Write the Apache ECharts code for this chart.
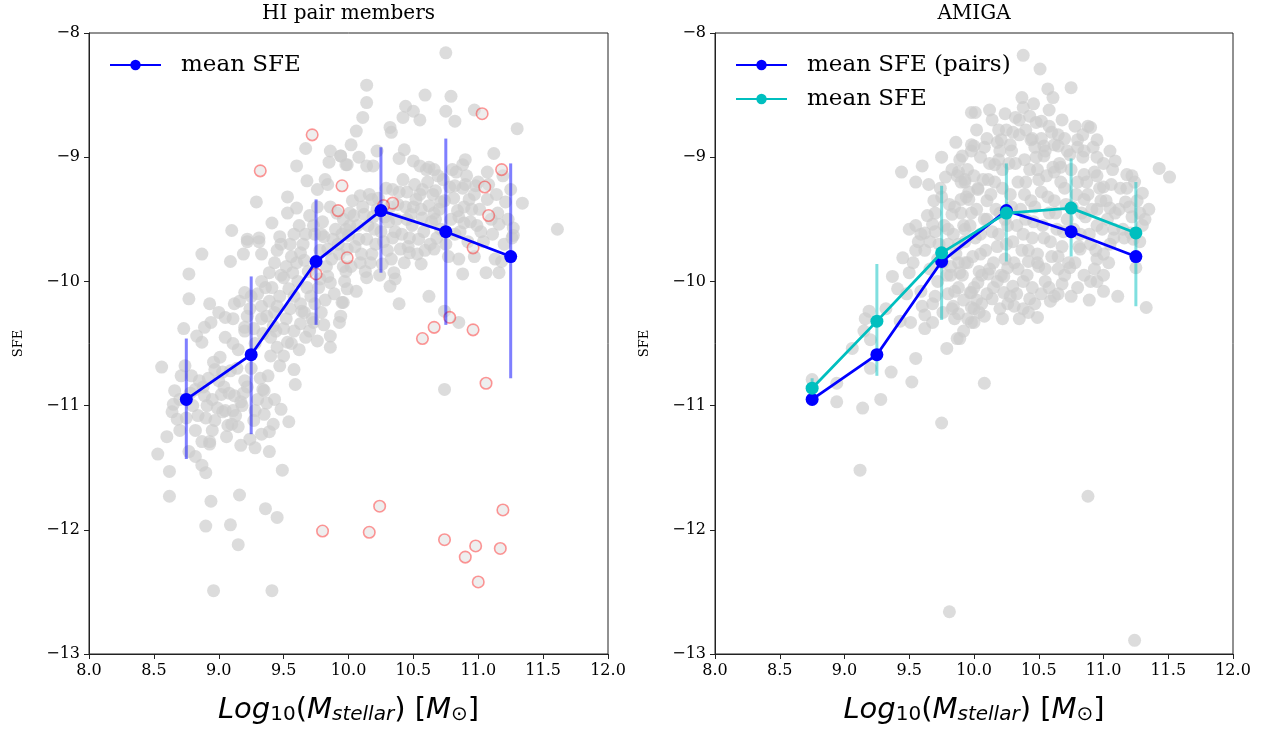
<!DOCTYPE html>
<html>
<head>
<meta charset="utf-8">
<script src="https://cdn.jsdelivr.net/npm/echarts@6/dist/echarts.min.js"></script>
<style>html,body{margin:0;padding:0;background:#fff}#c{width:1288px;height:732px}</style>
</head>
<body>
<div id="c"></div>
<script>
// ---- data ----
const binCenters = [8.75, 9.25, 9.75, 10.25, 10.75, 11.25];
const pairMean = [-10.95, -10.59, -9.84, -9.43, -9.60, -9.80];
const pairErrLo = [-11.43, -11.23, -10.35, -9.93, -10.35, -10.78];
const pairErrHi = [-10.46, -9.96, -9.34, -8.92, -8.85, -9.05];
const amigaMean = [-10.86, -10.32, -9.77, -9.45, -9.41, -9.61];
const amigaErrLo = [-10.93, -10.76, -10.31, -9.84, -9.80, -10.20];
const amigaErrHi = [-10.78, -9.86, -9.23, -9.05, -9.01, -9.20];
const xTicks = [8.0, 8.5, 9.0, 9.5, 10.0, 10.5, 11.0, 11.5, 12.0];
const yTicks = [-13, -12, -11, -10, -9, -8];

const pairGray = [
[9.10,-9.59],[8.87,-9.78],[8.77,-9.94],[8.77,-10.14],[8.93,-10.18],[9.09,-9.84],[9.19,-9.78],[9.22,-9.68],[9.31,-9.68],[9.33,-9.78],[9.43,-9.85],[9.48,-9.70],[9.56,-9.80],[9.57,-9.93],[9.63,-9.77],[9.67,-9.62],[9.79,-9.62],[9.84,-9.74],[9.86,-10.01],[9.95,-10.17],[9.93,-10.33],[9.86,-10.44],[9.86,-10.53],[9.76,-10.48],[9.67,-10.45],[9.63,-10.34],[9.73,-10.33],[9.79,-10.25],[9.64,-10.24],[9.58,-10.12],[9.54,-10.06],[9.50,-9.97],[9.39,-9.93],[9.33,-10.00],[9.20,-10.09],[9.16,-10.16],[9.22,-10.28],[9.11,-10.30],[9.20,-10.37],[9.33,-10.20],[9.39,-10.16],[9.43,-10.25],[9.42,-10.36],[9.50,-10.38],[9.53,-10.49],[9.45,-10.53],[9.40,-10.60],[9.50,-10.60],[9.58,-10.71],[9.59,-10.83],[9.47,-10.68],[9.38,-10.76],[9.34,-10.87],[9.43,-10.95],[9.48,-11.03],[9.54,-11.13],[9.42,-11.15],[9.35,-11.07],[9.28,-11.04],[9.20,-10.80],[9.12,-10.92],[9.11,-11.04],[9.17,-10.97],[9.02,-10.91],[9.05,-11.04],[9.07,-11.16],[9.15,-11.17],[9.24,-11.27],[9.33,-11.23],[9.39,-11.21],[8.97,-11.12],[8.91,-11.00],[8.89,-10.92],[8.97,-10.71],[9.01,-10.61],[8.96,-10.65],[9.03,-10.73],[9.11,-10.50],[9.05,-10.29],[8.94,-10.33],[8.89,-10.37],[8.87,-10.49],[8.83,-10.44],[8.73,-10.38],[8.74,-10.68],[8.71,-10.76],[8.66,-10.88],[8.65,-10.99],[8.64,-11.05],[8.68,-11.11],[8.70,-11.20],[8.60,-11.25],[8.56,-10.69],[8.82,-11.20],[8.87,-11.29],[8.93,-11.29],[8.79,-10.76],[8.82,-10.87],[8.88,-10.85],[9.98,-9.58],[9.96,-9.88],[9.94,-10.28],
[8.53,-11.39],[8.62,-11.53],[8.62,-11.73],[8.82,-11.41],[8.87,-11.48],[8.90,-11.54],[8.93,-11.31],[8.77,-11.37],[9.17,-11.32],[9.28,-11.34],[9.39,-11.37],[9.49,-11.52],[8.94,-11.77],[9.16,-11.72],[9.36,-11.83],[9.45,-11.90],[8.90,-11.97],[9.09,-11.96],[9.15,-12.12],[8.96,-12.49],[9.41,-12.49],
[9.96,-10.17],[9.99,-10.06],[10.14,-9.97],[10.32,-10.04],[10.36,-9.98],[10.39,-10.18],[10.47,-9.77],[10.56,-9.86],[10.62,-10.12],[10.66,-9.74],[10.74,-10.24],[10.85,-10.33],[10.88,-9.94],[10.85,-9.82],[10.97,-9.80],[11.06,-9.93],[11.16,-9.93],[11.13,-9.82],[11.18,-9.84],[11.26,-9.65],[11.61,-9.58],[10.74,-10.87],
[10.75,-8.16],[10.14,-8.42],[10.14,-8.56],[10.11,-8.68],[10.59,-8.50],[10.79,-8.51],[10.44,-8.59],[10.50,-8.63],[10.42,-8.68],[10.55,-8.70],[10.75,-8.63],[10.82,-8.71],[10.97,-8.62],[11.30,-8.77],[10.32,-8.76],[10.33,-8.80],[10.06,-8.79],[10.02,-8.90],[10.22,-8.95],[10.43,-8.94],[9.94,-8.99],[9.99,-9.06],[10.08,-9.00],[10.14,-9.07],[10.19,-9.07],[10.39,-9.01],[10.50,-9.03],[10.55,-9.07],[10.62,-9.08],[10.66,-9.10],[10.88,-9.06],[10.90,-9.02],[11.12,-8.97],[10.57,-9.26],[10.67,-9.27],[10.78,-9.24],[10.82,-9.23],[10.90,-9.22],[10.98,-9.23],[11.08,-9.22],[11.25,-9.26],[10.93,-9.34],[11.07,-9.34],[11.21,-9.36],[11.34,-9.37],[10.84,-9.43],[10.71,-9.36],[10.62,-9.39],[10.52,-9.34],[10.45,-9.28],[10.34,-9.26],[10.18,-9.34],[10.09,-9.31],[10.01,-9.45],[10.89,-9.53],[10.99,-9.55],[11.16,-9.54],[11.27,-9.57],[11.27,-9.63],[10.57,-9.49],[10.48,-9.46],[10.67,-9.50],
[9.67,-8.93],[9.86,-8.95],[9.94,-8.99],[9.85,-9.04],[9.60,-9.07],[9.98,-9.06],[9.68,-9.19],[9.82,-9.18],[9.76,-9.26],[9.84,-9.22],[9.53,-9.32],[9.29,-9.36],[9.60,-9.41],[9.53,-9.45],[9.41,-9.53],[9.22,-9.66],[9.31,-9.65],[9.47,-9.64],
[9.55,-9.70],[9.62,-9.55],[9.66,-9.83],[9.70,-9.47],[9.74,-9.62],[9.78,-9.75],[9.80,-9.52],[9.83,-9.88],[9.86,-9.40],[9.88,-9.66],[9.90,-9.58],[9.93,-9.78],[9.96,-9.50],[9.98,-9.92],[10.00,-9.63],[10.03,-9.35],[10.05,-9.72],[10.07,-9.55],[10.09,-9.85],[10.12,-9.46],[10.14,-9.66],[10.16,-9.30],[10.18,-9.78],[10.20,-9.58],[10.22,-9.42],[10.24,-9.95],[10.27,-9.68],[10.29,-9.25],[10.31,-9.52],[10.33,-9.82],[10.36,-9.60],[10.38,-9.38],[10.40,-9.74],[10.42,-9.18],[10.45,-9.50],[10.47,-9.65],[10.50,-9.40],[10.53,-9.78],[10.55,-9.30],[10.58,-9.60],[10.61,-9.20],[10.63,-9.70],[10.66,-9.45],[10.69,-9.15],[10.71,-9.58],[10.74,-9.35],[10.77,-9.80],[10.80,-9.10],[10.82,-9.62],[10.85,-9.48],[10.88,-9.25],[10.92,-9.68],[10.95,-9.42],[11.00,-9.20],[11.02,-9.60],[11.10,-9.50],[11.14,-9.30],[11.20,-9.70],
[9.00,-10.25],[9.05,-10.45],[9.12,-10.18],[9.15,-10.55],[9.20,-10.40],[9.25,-10.12],[9.28,-10.50],[9.33,-10.30],[9.36,-10.05],[9.40,-10.45],[9.45,-10.20],[9.48,-9.95],[9.52,-10.30],[9.56,-10.50],[9.60,-9.85],[9.63,-10.18],[9.68,-10.05],[9.72,-10.30],[9.78,-9.98],[9.82,-10.15],
[8.80,-11.00],[8.85,-10.80],[8.90,-11.10],[8.95,-10.95],[9.00,-10.80],[9.03,-11.05],[9.08,-10.90],[9.10,-11.15],[9.14,-10.70],[9.18,-11.00],[9.22,-10.85],[9.30,-10.95],[9.35,-10.88],[8.95,-11.20],[8.75,-11.10],[8.70,-10.95],
[9.45,-9.75],[9.52,-9.88],[9.58,-9.62],[9.61,-10.00],[9.65,-9.70],[9.69,-9.92],[9.71,-10.12],[9.73,-9.55],[9.76,-9.40],[9.77,-10.05],[9.81,-9.64],[9.84,-9.96],[9.87,-9.82],[9.89,-10.10],[9.91,-9.45],[9.92,-9.70],[9.95,-9.62],[9.97,-10.00],[9.99,-9.74],[10.01,-9.55],[10.02,-9.88],[10.04,-9.47],[10.06,-10.08],[10.08,-9.66],[10.10,-9.78],[10.11,-9.40],[10.13,-9.92],[10.15,-9.55],[10.17,-9.85],[10.19,-9.48],[10.21,-9.70],[10.23,-9.33],[10.25,-9.60],[10.26,-9.86],[10.28,-9.48],[10.30,-9.75],[10.32,-9.40],[10.34,-9.65],[10.35,-9.93],[10.37,-9.50],[10.39,-9.28],[10.41,-9.62],[10.43,-9.85],[10.44,-9.40],[10.46,-9.72],[10.49,-9.55],[10.51,-9.22],[10.54,-9.66],[10.56,-9.42],[10.59,-9.75],[10.60,-9.10],[10.64,-9.52],[10.65,-9.30],[10.68,-9.65],[10.70,-9.42],[10.73,-9.18],[10.75,-9.70],[10.79,-9.50],[10.81,-9.33],[10.83,-9.12],[10.86,-9.60],[10.89,-9.40],[10.91,-9.15],[10.94,-9.52],[10.97,-9.30],[11.01,-9.42],[11.04,-9.68],[11.07,-9.12],[11.11,-9.62],[11.15,-9.45],[11.19,-9.15],[11.23,-9.50],
[9.24,-10.22],[9.27,-10.38],[9.30,-10.10],[9.34,-10.42],[9.37,-10.28],[9.41,-10.05],[9.44,-10.40],[9.47,-10.12],[9.55,-10.22],[9.58,-10.40],[9.62,-10.55],[9.66,-10.25],[9.70,-10.40],[9.74,-10.18],[9.81,-10.35],
[8.92,-10.78],[8.99,-11.02],[9.04,-10.85],[9.09,-10.72],[9.13,-11.08],[9.19,-10.90],[9.25,-10.70],[9.27,-11.12],[9.32,-10.78],[9.37,-10.98],[9.06,-11.25],[8.84,-11.08],[8.78,-10.90]
];

const pairRed = [
[9.72,-8.82],[9.32,-9.11],[9.95,-9.23],[9.92,-9.43],[9.75,-9.94],[9.99,-9.81],[10.34,-9.37],[10.27,-9.39],[11.03,-8.65],[11.18,-9.10],[11.05,-9.24],[11.08,-9.47],[10.96,-9.73],[10.78,-10.29],[10.66,-10.37],[10.57,-10.46],[10.96,-10.39],[11.06,-10.82],[9.80,-12.01],[10.16,-12.02],[10.24,-11.81],[10.74,-12.08],[10.98,-12.13],[10.90,-12.22],[11.00,-12.42],[11.17,-12.15],[11.19,-11.84]
];

const amigaGray = [
[9.98,-8.64],[9.86,-8.88],[9.98,-8.90],[9.75,-9.00],[9.60,-9.07],[9.44,-9.12],[9.89,-9.02],[9.83,-9.10],[9.55,-9.20],[9.65,-9.22],[9.78,-9.16],[9.93,-9.20],[9.96,-9.28],[9.90,-9.34],[9.69,-9.35],[9.75,-9.32],[9.83,-9.46],[9.64,-9.47],[9.68,-9.54],[9.55,-9.55],[9.59,-9.62],[9.93,-9.58],[9.80,-9.58],
[10.38,-8.18],[10.51,-8.29],[10.57,-8.45],[10.75,-8.44],[10.61,-8.52],[10.37,-8.52],[10.46,-8.57],[10.38,-8.60],[10.43,-8.67],[10.01,-8.64],[10.14,-8.70],[10.19,-8.78],[10.25,-8.78],[10.52,-8.71],[10.58,-8.75],[10.65,-8.82],[10.88,-8.75],[10.90,-8.76],[10.80,-8.86],[10.95,-8.86],[10.35,-8.82],[10.44,-8.86],[10.21,-8.86],[10.00,-8.91],[9.91,-8.99],[9.98,-8.95],[10.29,-8.95],[10.47,-8.92],[10.54,-8.91],[10.65,-8.91],[10.80,-8.92],[10.67,-9.08],[10.19,-9.02],[10.16,-9.06],[10.11,-9.18],[10.39,-9.02],[10.54,-8.99],[10.49,-9.10],[10.62,-9.12],[10.85,-9.14],[10.95,-9.15],[11.00,-9.24],[11.09,-9.03],[11.07,-9.10],[11.18,-9.14],[11.22,-9.15],[11.43,-9.09],[11.51,-9.16],[11.30,-9.29],[11.17,-9.36],[11.32,-9.50],[11.05,-9.41],[10.95,-9.42],[10.85,-9.34],[9.93,-9.18],[10.03,-9.26],[9.96,-9.34],[9.88,-9.12],[11.21,-9.61],[11.08,-9.58],
[9.88,-9.85],[9.98,-10.09],[10.00,-10.22],[10.00,-10.33],[9.89,-10.46],[10.14,-10.14],[10.06,-10.18],[10.23,-10.09],[10.31,-10.20],[10.30,-10.04],[10.38,-10.00],[10.42,-10.25],[10.49,-10.29],[10.43,-10.14],[10.59,-10.16],[10.62,-10.12],[10.74,-9.89],[10.89,-10.15],[10.95,-10.00],[10.93,-9.90],[10.95,-9.82],[11.04,-9.85],[11.11,-10.12],[11.33,-10.21],[11.25,-9.89],[11.28,-9.68],[11.23,-9.66],[10.08,-10.82],[10.23,-9.96],[10.26,-9.89],[10.11,-9.94],[10.03,-10.01],[10.65,-9.90],[10.49,-9.85],[10.42,-9.84],[10.82,-9.74],
[8.75,-10.79],[8.94,-10.82],[8.94,-10.97],[9.14,-11.02],[9.28,-10.95],[9.36,-10.73],[9.52,-10.81],[9.55,-10.62],[9.06,-10.54],[9.15,-10.40],[9.16,-10.30],[9.19,-10.24],[9.32,-10.22],[9.20,-10.47],[9.20,-10.70],[9.43,-10.32],[9.51,-10.33],[9.62,-10.38],[9.68,-10.33],[9.62,-10.27],[9.68,-10.18],[9.45,-9.81],[9.37,-9.96],[9.41,-10.06],[9.53,-9.85],[9.50,-9.93],[9.59,-10.08],[9.57,-9.68],[9.62,-9.61],[9.73,-9.70],[9.79,-10.54],[9.87,-10.46],[9.75,-11.14],[9.83,-10.22],[9.88,-10.26],[9.80,-10.10],[9.85,-10.08],[9.89,-9.93],[9.93,-9.85],[9.97,-10.09],[9.98,-10.33],[9.98,-10.21],[9.82,-9.88],
[9.12,-11.52],[9.81,-12.66],[10.88,-11.73],[11.24,-12.89],
[9.85,-9.40],[9.88,-9.70],[9.92,-9.55],[9.95,-9.85],[9.98,-9.45],[10.01,-9.65],[10.03,-9.25],[10.05,-9.78],[10.08,-9.50],[10.10,-9.35],[10.12,-9.90],[10.14,-9.60],[10.16,-9.20],[10.18,-9.72],[10.20,-9.45],[10.22,-9.10],[10.24,-9.82],[10.26,-9.55],[10.28,-9.30],[10.30,-9.68],[10.32,-9.05],[10.34,-9.90],[10.36,-9.42],[10.38,-9.62],[10.40,-9.20],[10.42,-9.75],[10.44,-9.35],[10.46,-9.52],[10.48,-9.00],[10.50,-9.88],[10.52,-9.28],[10.54,-9.65],[10.56,-9.15],[10.58,-9.45],[10.60,-9.80],[10.62,-9.35],[10.64,-9.58],[10.66,-9.05],[10.68,-9.72],[10.70,-9.25],[10.72,-9.50],[10.74,-8.98],[10.76,-9.40],[10.78,-9.85],[10.80,-9.20],[10.82,-9.62],[10.84,-9.00],[10.86,-9.48],[10.88,-9.30],[10.90,-9.70],[10.93,-9.12],[10.95,-9.55],[10.98,-9.35],[11.00,-9.78],[11.03,-9.50],[11.06,-9.22],[11.08,-9.65],[11.12,-9.42],[11.15,-9.58],[11.18,-9.25],[11.22,-9.48],[11.26,-9.35],[11.30,-9.55],[11.35,-9.42],
[9.62,-9.75],[9.66,-9.90],[9.70,-9.60],[9.72,-10.00],[9.76,-9.85],[9.80,-9.70],[9.82,-9.95],[9.84,-10.20],[9.88,-10.05],[9.92,-10.15],[9.95,-10.30],[10.00,-10.05],[10.04,-10.25],[10.06,-9.95],[10.10,-10.10],[10.18,-10.00],[10.20,-10.22],[10.28,-10.12],[10.35,-10.30],[10.45,-10.05],[10.55,-10.00],[10.65,-10.10],[10.70,-9.95],[10.80,-10.05],[10.90,-10.00],[11.00,-9.95],
[9.90,-9.20],[9.95,-9.10],[10.05,-9.00],[10.10,-8.85],[10.20,-8.95],[10.30,-8.80],[10.35,-8.70],[10.45,-8.85],[10.55,-8.95],[10.60,-8.80],[10.70,-8.85],[10.85,-8.95],[10.95,-9.00],
[9.66,-9.68],[9.70,-9.45],[9.72,-9.82],[9.74,-9.25],[9.77,-9.55],[9.79,-9.95],[9.81,-9.38],[9.84,-9.62],[9.86,-9.78],[9.87,-9.15],[9.90,-9.45],[9.91,-9.95],[9.93,-9.68],[9.94,-9.32],[9.97,-9.55],[9.99,-9.80],[10.00,-9.15],[10.02,-9.42],[10.04,-9.92],[10.05,-9.62],[10.07,-9.18],[10.09,-9.75],[10.10,-9.50],[10.12,-9.05],[10.13,-9.30],[10.15,-9.85],[10.17,-9.42],[10.19,-9.62],[10.21,-9.95],[10.22,-9.25],[10.24,-9.50],[10.25,-9.70],[10.27,-9.05],[10.29,-9.40],[10.31,-9.85],[10.33,-9.55],[10.34,-9.20],[10.37,-9.75],[10.39,-9.30],[10.40,-9.50],[10.41,-9.95],[10.43,-9.10],[10.45,-9.65],[10.47,-9.40],[10.49,-9.78],[10.50,-9.18],[10.53,-9.55],[10.55,-9.90],[10.57,-9.32],[10.59,-9.68],[10.61,-9.08],[10.63,-9.45],[10.65,-9.80],[10.67,-9.20],[10.69,-9.60],[10.71,-9.38],[10.73,-9.85],[10.75,-9.10],[10.77,-9.58],[10.79,-9.30],[10.81,-9.72],[10.83,-9.45],[10.87,-9.20],[10.89,-9.62],[10.91,-9.42],[10.94,-9.75],[10.97,-9.25],[10.99,-9.58],[11.02,-9.35],[11.05,-9.70],[11.09,-9.45],[11.13,-9.25],[11.16,-9.65],[11.20,-9.40],[11.24,-9.20],[11.28,-9.45],
[10.02,-8.78],[10.08,-8.92],[10.12,-8.62],[10.18,-8.88],[10.24,-8.65],[10.28,-8.90],[10.32,-8.68],[10.40,-8.78],[10.48,-8.72],[10.52,-8.85],[10.58,-8.62],[10.62,-8.90],[10.68,-8.70],[10.72,-8.95],[10.78,-8.75],[10.84,-8.82],[10.92,-8.92],[11.00,-9.05],[11.05,-8.95],
[9.85,-10.30],[9.92,-10.40],[10.02,-10.15],[10.08,-10.28],[10.15,-10.05],[10.22,-10.30],[10.26,-10.18],[10.33,-10.10],[10.38,-10.22],[10.47,-10.18],[10.52,-10.10],[10.58,-10.05],[10.68,-10.02],[10.75,-10.12],[10.85,-9.95],[11.00,-10.08],[9.70,-10.12],[9.76,-10.25],[9.60,-10.20],[9.55,-9.75],[9.50,-9.58],[9.48,-10.10]
];

// ---- build ----
const SERIF = "'DejaVu Serif', serif";
const SANS = "'DejaVu Sans', sans-serif";
const minus = v => (v < 0 ? '\u2212' : '') + Math.abs(v);

function zip3(xs, a, b) { return xs.map((x, i) => [x, a[i], b[i]]); }
function zip2(xs, a) { return xs.map((x, i) => [x, a[i]]); }

const xName = '{i|Log}{s|10}{n|(}{i|M}{si|stellar}{n|) [}{i|M}{s|\u2299}{n|]}';
const xNameRich = {
  i: { fontFamily: SANS, fontStyle: 'italic', fontSize: 29, color: '#000', lineHeight: 38, verticalAlign: 'bottom' },
  n: { fontFamily: SANS, fontSize: 29, color: '#000', lineHeight: 38, verticalAlign: 'bottom' },
  s: { fontFamily: SANS, fontSize: 20, color: '#000', lineHeight: 30, verticalAlign: 'bottom' },
  si: { fontFamily: SANS, fontStyle: 'italic', fontSize: 20, color: '#000', lineHeight: 30, verticalAlign: 'bottom' }
};

function xAxisCfg(gi) {
  return {
    type: 'value', gridIndex: gi, min: 8, max: 12, interval: 0.5,
    axisLine: { show: true, onZero: false, lineStyle: { color: '#222', width: 1 } },
    axisTick: { show: true, length: 5, lineStyle: { color: '#222' } },
    axisLabel: { fontFamily: SERIF, fontSize: 16, color: '#000', margin: 9, formatter: v => v.toFixed(1) },
    splitLine: { show: false },
    name: xName, nameLocation: 'middle', nameGap: 33,
    nameTextStyle: { rich: xNameRich }
  };
}
function yAxisCfg(gi) {
  return {
    type: 'value', gridIndex: gi, min: -13, max: -8, interval: 1,
    axisLine: { show: true, onZero: false, lineStyle: { color: '#222', width: 1 } },
    axisTick: { show: true, length: 5, lineStyle: { color: '#222' } },
    axisLabel: { fontFamily: SERIF, fontSize: 16, color: '#000', margin: 9, formatter: minus },
    splitLine: { show: false },
    name: 'SFE', nameLocation: 'middle', nameRotate: 90, nameGap: 64,
    nameTextStyle: { fontFamily: SERIF, fontSize: 13, color: '#000' }
  };
}
function errSeries(gi, data, color, z) {
  return {
    type: 'custom', xAxisIndex: gi, yAxisIndex: gi, z: z, silent: true,
    data: data, encode: { x: 0, y: [1, 2] },
    renderItem: (params, api) => {
      const p1 = api.coord([api.value(0), api.value(1)]);
      const p2 = api.coord([api.value(0), api.value(2)]);
      return { type: 'line', shape: { x1: p1[0], y1: p1[1], x2: p2[0], y2: p2[1] },
        style: { stroke: color, lineWidth: 3 } };
    }
  };
}
const grayStyle = { color: 'rgba(204,204,204,0.85)' };

const option = {
  animation: false,
  backgroundColor: '#fff',
  grid: [
    { left: 89, top: 33, width: 519, height: 621, show: true, borderColor: '#222', borderWidth: 1, backgroundColor: 'transparent' },
    { left: 715, top: 33, width: 518, height: 621, show: true, borderColor: '#222', borderWidth: 1, backgroundColor: 'transparent' }
  ],
  xAxis: [xAxisCfg(0), xAxisCfg(1)],
  yAxis: [yAxisCfg(0), yAxisCfg(1)],
  legend: [
    { data: ['mean SFE'], left: 109, top: 53, padding: 0, orient: 'vertical',
      itemWidth: 51, itemHeight: 13, itemGap: 10,
      textStyle: { fontFamily: SERIF, fontSize: 23, color: '#000', lineHeight: 24, padding: [0, 0, 0, 15] } },
    { data: ['mean SFE (pairs)', 'mean SFE (all)'], left: 735, top: 53, padding: 0, orient: 'vertical',
      itemWidth: 51, itemHeight: 13, itemGap: 10,
      formatter: n => n === 'mean SFE (all)' ? 'mean SFE' : n,
      textStyle: { fontFamily: SERIF, fontSize: 23, color: '#000', lineHeight: 24, padding: [0, 0, 0, 15] } }
  ],
  graphic: [
    { type: 'text', x: 348.5, y: 14, style: { text: 'HI pair members', font: "20px 'DejaVu Serif'", fill: '#000', textAlign: 'center', textVerticalAlign: 'middle' } },
    { type: 'text', x: 974, y: 14, style: { text: 'AMIGA', font: "20px 'DejaVu Serif'", fill: '#000', textAlign: 'center', textVerticalAlign: 'middle' } }
  ],
  series: [
    { type: 'scatter', name: 'pairs', xAxisIndex: 0, yAxisIndex: 0, data: pairGray, symbolSize: 13, itemStyle: grayStyle, z: 1, silent: true },
    { type: 'scatter', name: 'pairsRed', xAxisIndex: 0, yAxisIndex: 0, data: pairRed, symbolSize: 11.5, z: 2, silent: true,
      itemStyle: { color: 'rgba(220,220,220,0.6)', borderColor: 'rgba(255,40,40,0.6)', borderWidth: 1.6 } },
    errSeries(0, zip3(binCenters, pairErrLo, pairErrHi), 'rgba(0,0,255,0.5)', 3),
    { type: 'line', name: 'mean SFE', xAxisIndex: 0, yAxisIndex: 0, data: zip2(binCenters, pairMean), z: 4,
      symbol: 'circle', symbolSize: 13, showSymbol: true,
      lineStyle: { color: '#0000ff', width: 2.8 }, itemStyle: { color: '#0000ff' } },

    { type: 'scatter', name: 'amiga', xAxisIndex: 1, yAxisIndex: 1, data: amigaGray, symbolSize: 13, itemStyle: grayStyle, z: 1, silent: true },
    errSeries(1, zip3(binCenters, amigaErrLo, amigaErrHi), 'rgba(0,191,191,0.5)', 3),
    { type: 'line', name: 'mean SFE (pairs)', xAxisIndex: 1, yAxisIndex: 1, data: zip2(binCenters, pairMean), z: 4,
      symbol: 'circle', symbolSize: 13,
      lineStyle: { color: '#0000ff', width: 2.8 }, itemStyle: { color: '#0000ff' } },
    { type: 'line', name: 'mean SFE (all)', xAxisIndex: 1, yAxisIndex: 1, data: zip2(binCenters, amigaMean), z: 5,
      symbol: 'circle', symbolSize: 13,
      lineStyle: { color: '#00bfbf', width: 2.8 }, itemStyle: { color: '#00bfbf' } }
  ]
};
const chart = echarts.init(document.getElementById('c'), null, { renderer: 'canvas' });
chart.setOption(option);
</script>
</body>
</html>
